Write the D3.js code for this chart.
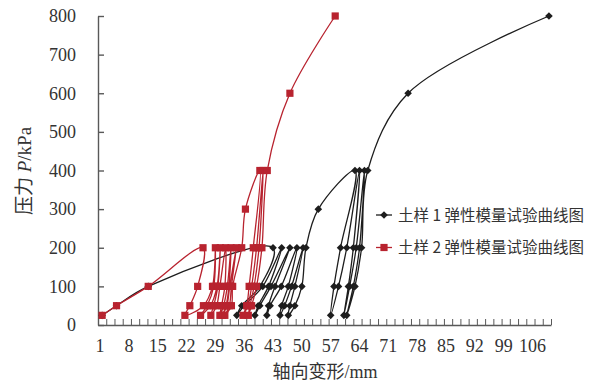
<!DOCTYPE html>
<html>
<head>
<meta charset="utf-8">
<script src="https://cdn.jsdelivr.net/npm/d3@7"></script>
<style>
  body { margin: 0; background: #fff; }
  svg { display: block; }
</style>
</head>
<body>
<script>
const width = 595
    , height = 384

// sample 1: axial deformation (mm) and pressure (kPa), in test order
const soil1X = [1.5, 5, 12.7, 43.0,
    39.8, 35.4, 34.2, 36.0, 40.5, 45.1,
    41.9, 39.4, 38.6, 39.8, 42.5, 47.1,
    43.5, 41.9, 41.5, 42.3, 45.0, 48.8,
    46.7, 45.1, 44.7, 45.8, 47.5, 50.3,
    48.3, 47.1, 46.7, 48.3, 50.0, 51.0,
    54.0, 62.9,
    59.4, 57.8, 57.0, 58.9, 60.9, 64.0,
    62.5, 61.3, 60.2, 61.6, 63.2, 65.2,
    64.0, 62.5, 60.9, 62.9, 64.5, 66.0,
    75.8, 110]
const soil1P = [25, 50, 100, 200,
    100, 50, 25, 50, 100, 200,
    100, 50, 25, 50, 100, 200,
    100, 50, 25, 50, 100, 200,
    100, 50, 25, 50, 100, 200,
    100, 50, 25, 50, 100, 200,
    300, 400,
    200, 100, 25, 100, 200, 400,
    200, 100, 25, 100, 200, 400,
    200, 100, 25, 100, 200, 400,
    600, 800]

// sample 2
const soil2X = [1.5, 5, 12.7, 26.0,
    24.7, 22.8, 21.6, 26.1, 28.3, 29.0,
    28.6, 27.0, 25.4, 27.8, 29.4, 30.2,
    29.6, 28.6, 27.9, 29.3, 30.1, 31.5,
    31.3, 30.5, 30.1, 31.0, 31.9, 32.8,
    32.3, 31.6, 30.7, 31.8, 32.5, 34.1,
    32.9, 32.4, 31.3, 32.9, 33.2, 35.4,
    36.3, 39.8,
    38.2, 37.2, 36.6, 35.7, 36.9, 37.8, 39.0, 40.6,
    39.6, 38.4, 37.4, 37.0, 37.8, 39.0, 40.3, 41.6,
    47.1, 58.1]
const soil2P = [25, 50, 100, 200,
    100, 50, 25, 50, 100, 200,
    100, 50, 25, 50, 100, 200,
    100, 50, 25, 50, 100, 200,
    100, 50, 25, 50, 100, 200,
    100, 50, 25, 50, 100, 200,
    100, 50, 25, 50, 100, 200,
    300, 400,
    200, 100, 50, 25, 50, 100, 200, 400,
    200, 100, 50, 25, 50, 100, 200, 400,
    600, 800]

const xTickLabels = [1, 8, 15, 22, 29, 36, 43, 50, 57, 64, 71, 78, 85, 92, 99, 106]
const yTickLabels = [0, 100, 200, 300, 400, 500, 600, 700, 800]
const seriesNames = ['土样 1 弹性模量试验曲线图', '土样 2 弹性模量试验曲线图']

const black = '#1d1d1d'
const red = '#b8232f'
const axisColor = '#595959'
const textColor = '#333'

const svg = d3.select('body').append('svg')
    .attr('width', width)
    .attr('height', height)

// scales (x is a category-like axis, 110 slots)
const xScale = d3.scaleLinear()
    .domain([0.5, 110.5])
    .range([98, 551])

const yScale = d3.scaleLinear()
    .domain([0, 800])
    .range([325, 16])

// x axis: ticks every 2 slots, labels every 7
const xAxis = svg.append('g')
    .attr('transform', 'translate(0,' + yScale(0) + ')')
    .call(d3.axisBottom(xScale)
        .tickValues(d3.range(0.5, 110.6, 2))
        .tickSizeInner(-6)
        .tickSizeOuter(0)
        .tickFormat(''))
xAxis.select('.domain').attr('stroke', axisColor).attr('stroke-width', 1.4)
xAxis.selectAll('.tick line').attr('stroke', axisColor).attr('stroke-width', 1)

svg.append('g').selectAll('text')
    .data(xTickLabels)
    .enter()
    .append('text')
    .attr('x', d => xScale(d))
    .attr('y', 352)
    .attr('text-anchor', 'middle')
    .attr('font-family', '"Liberation Serif", "Times New Roman", serif')
    .attr('font-size', 18)
    .attr('fill', textColor)
    .text(d => d)

// y axis
const yAxis = svg.append('g')
    .attr('transform', 'translate(' + xScale(0.5) + ',0)')
    .call(d3.axisLeft(yScale)
        .tickValues(yTickLabels)
        .tickSizeInner(-6)
        .tickSizeOuter(0)
        .tickPadding(22))
yAxis.select('.domain').attr('stroke', axisColor).attr('stroke-width', 1.4)
yAxis.selectAll('.tick line').attr('stroke', axisColor).attr('stroke-width', 1.4)
yAxis.selectAll('.tick text')
    .attr('font-family', '"Liberation Serif", "Times New Roman", serif')
    .attr('font-size', 18)
    .attr('fill', textColor)

// axis titles
const yTitle = svg.append('text')
    .attr('transform', 'translate(31,171) rotate(-90)')
    .attr('text-anchor', 'middle')
    .attr('font-size', 19)
    .attr('fill', textColor)
yTitle.append('tspan').attr('font-family', '"Noto Sans CJK SC", sans-serif').text('压力')
yTitle.append('tspan').attr('font-family', '"Liberation Serif", serif').attr('font-style', 'italic').text(' P')
yTitle.append('tspan').attr('font-family', '"Liberation Serif", serif').text('/kPa')

const xTitle = svg.append('text')
    .attr('x', 325)
    .attr('y', 378)
    .attr('text-anchor', 'middle')
    .attr('font-size', 18)
    .attr('fill', textColor)
xTitle.append('tspan').attr('font-family', '"Noto Sans CJK SC", sans-serif').text('轴向变形')
xTitle.append('tspan').attr('font-family', '"Liberation Serif", serif').text('/mm')

// smoothed line generator, similar to the spreadsheet's smoothing
const line = d3.line()
    .x(d => xScale(d[0]))
    .y(d => yScale(d[1]))
    .curve(d3.curveCatmullRom.alpha(0.5))

const diamond = 'M0,-3.8L3.8,0L0,3.8L-3.8,0Z'

const soil1 = soil1X.map((x, i) => [x, soil1P[i]])
const soil2 = soil2X.map((x, i) => [x, soil2P[i]])

// sample 1 (black, diamonds)
svg.append('path')
    .datum(soil1)
    .attr('d', line)
    .attr('fill', 'none')
    .attr('stroke', black)
    .attr('stroke-width', 1.3)

svg.selectAll('.dia').data(soil1)
    .enter()
    .append('path')
    .attr('class', 'dia')
    .attr('d', diamond)
    .attr('transform', d => 'translate(' + xScale(d[0]) + ',' + yScale(d[1]) + ')')
    .attr('fill', black)

// sample 2 (red, squares)
svg.append('path')
    .datum(soil2)
    .attr('d', line)
    .attr('fill', 'none')
    .attr('stroke', red)
    .attr('stroke-width', 1.3)

svg.selectAll('.sq').data(soil2)
    .enter()
    .append('rect')
    .attr('class', 'sq')
    .attr('x', d => xScale(d[0]) - 3.6)
    .attr('y', d => yScale(d[1]) - 3.6)
    .attr('width', 7.2)
    .attr('height', 7.2)
    .attr('fill', red)

// legend
const legend = svg.append('g')
    .attr('transform', 'translate(376,215)')

seriesNames.forEach((name, i) => {
    const g = legend.append('g').attr('transform', 'translate(0,' + i * 32.5 + ')')
    const c = i == 0 ? black : red
    g.append('line')
        .attr('x1', 0).attr('x2', 16)
        .attr('stroke', c).attr('stroke-width', 1.3)
    if (i == 0) {
        g.append('path').attr('d', diamond).attr('transform', 'translate(8,0)').attr('fill', c)
    } else {
        g.append('rect').attr('x', 4.4).attr('y', -3.6).attr('width', 7.2).attr('height', 7.2).attr('fill', c)
    }
    g.append('text')
        .attr('x', 22)
        .attr('y', 5.5)
        .attr('font-family', '"Noto Sans CJK SC", sans-serif')
        .attr('font-size', 15.5)
        .attr('fill', textColor)
        .text(name)
})
</script>
</body>
</html>
